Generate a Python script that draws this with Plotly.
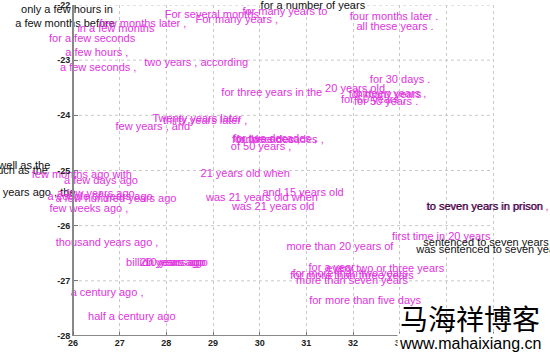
import plotly.graph_objects as go

MAGENTA = "#e033e0"
BLACK = "#111111"

labels = [
    "only a few hours in", "a few months before", "few months later ,", "in a few months",
    "for a few seconds", "a few hours ,", "a few seconds ,", "two years , according",
    "For several months ,", "For many years ,", "for many years to", "for a number of years",
    "four months later .", "all these years .", "for three years in the", "20 years old ,",
    "for 30 days .", "for 60 years ,", "for 50 years .", "for many years", "thirteen years ,",
    "Twenty years later", "thirty years later ,", "few years , and",
    "for three decades ,", "for two decades ,", "for decades ,", "of 50 years ,",
    "21 years old when", "and 15 years old", "was 21 years old when", "was 21 years old",
    "as well as the", "such as the", "several years ago , the",
    "few months ago with", "a few days ago", "a few years ago", "a couple of years ago",
    "a few hundred years ago", "few weeks ago ,", "thousand years ago ,",
    "billion years ago", "20 years ago", "10 years ago", "a century ago ,", "half a century ago",
    "more than 20 years of", "first time in 20 years", "sentenced to seven years",
    "was sentenced to seven years", "to seven years in prison ,", "to seven years in prison",
    "every two or three years", "for a year ,", "for more than two years",
    "for more than three years", "more than seven years", "for more than five days",
]
x_vals = [
    25.87, 25.83, 27.50, 26.92,
    26.41, 26.51, 26.54, 28.64,
    29.04, 29.51, 30.54, 31.14,
    32.88, 32.90, 30.26, 32.11,
    33.01, 32.43, 32.71, 32.69, 32.79,
    28.66, 28.83, 27.71,
    30.39, 30.33, 30.18, 30.03,
    29.69, 30.93, 30.05, 30.29,
    24.80, 24.86, 24.86,
    26.19, 26.60, 26.49, 26.58,
    26.92, 26.34, 26.73,
    27.99, 28.12, 28.21, 26.73, 27.26,
    31.72, 33.89, 34.85,
    34.94, 34.88, 34.83,
    32.69, 31.61, 31.94,
    31.98, 31.98, 32.26,
]
y_vals = [
    -22.09, -22.34, -22.34, -22.44,
    -22.62, -22.87, -23.14, -23.05,
    -22.18, -22.27, -22.13, -22.02,
    -22.22, -22.40, -23.60, -23.52,
    -23.36, -23.72, -23.76, -23.63, -23.61,
    -24.07, -24.10, -24.21,
    -24.45, -24.43, -24.45, -24.57,
    -25.06, -25.41, -25.50, -25.66,
    -24.92, -25.01, -25.41,
    -25.08, -25.19, -25.43, -25.48,
    -25.53, -25.70, -26.31,
    -26.68, -26.68, -26.69, -27.22, -27.66,
    -26.39, -26.21, -26.31,
    -26.44, -25.66, -25.66,
    -26.79, -26.77, -26.88,
    -26.91, -27.00, -27.37,
]
black_labels = {
    "only a few hours in", "a few months before", "for a number of years",
    "as well as the", "such as the", "several years ago , the",
    "sentenced to seven years", "was sentenced to seven years", "to seven years in prison",
}
colors = [BLACK if l in black_labels else MAGENTA for l in labels]

x_ticks = [26, 27, 28, 29, 30, 31, 32, 33, 34, 35]
y_ticks = [-28, -27, -26, -25, -24, -23, -22]

W, H = 550, 359
AX_LEFT_PX, AX_RIGHT_PX = 73, 493
TOP_M, BOT_M = 5, 23
px_per_unit = (AX_RIGHT_PX - AX_LEFT_PX) / (x_ticks[-1] - x_ticks[0])
x_range = [x_ticks[0] - AX_LEFT_PX / px_per_unit,
           x_ticks[0] + (W - AX_LEFT_PX) / px_per_unit]

FONT = "Liberation Sans, Arial, sans-serif"
fig = go.Figure()
fig.add_trace(go.Scatter(
    x=x_vals, y=y_vals, text=labels, mode="text",
    textposition="middle center",
    textfont=dict(family=FONT, size=11, color=colors),
    cliponaxis=False, hoverinfo="skip", showlegend=False,
))

tickfont = dict(family=FONT, size=9, color="#222222", weight="bold")
fig.update_xaxes(range=x_range, tickvals=x_ticks, ticktext=[str(v) for v in x_ticks],
                 showgrid=True, gridcolor="#c8c8c8", griddash="dot", gridwidth=1,
                 zeroline=False, showline=False, ticks="inside", ticklen=4,
                 tickcolor="#777777", tickfont=tickfont)
fig.update_yaxes(range=[y_ticks[0], y_ticks[-1]], tickvals=y_ticks,
                 ticktext=[str(v) for v in y_ticks],
                 anchor="free", position=AX_LEFT_PX / W,
                 showgrid=False, zeroline=False, showline=True, linecolor="#888888",
                 linewidth=2, ticks="inside", ticklen=4, tickcolor="#777777",
                 tickfont=tickfont)

# horizontal dotted grid lines limited to the axes box
for yv in y_ticks[1:]:
    fig.add_shape(type="line", xref="x", yref="y", x0=x_ticks[0], x1=x_ticks[-1],
                  y0=yv, y1=yv, line=dict(color="#c8c8c8", width=1, dash="dot"), layer="below")
# bottom axis line
fig.add_shape(type="line", xref="x", yref="y", x0=x_ticks[0], x1=x_ticks[-1],
              y0=y_ticks[0], y1=y_ticks[0], line=dict(color="#888888", width=2))

plot_h = H - TOP_M - BOT_M
fig.add_annotation(text="马海祥博客", xref="paper", yref="paper", x=470 / W,
                   y=(H - BOT_M - 318) / plot_h,
                   xanchor="center", yanchor="middle", showarrow=False,
                   font=dict(family="Noto Sans CJK SC", size=28, color="#000000"))
fig.add_annotation(text="www.mahaixiang.cn", xref="paper", yref="paper", x=470 / W,
                   y=(H - BOT_M - 343) / plot_h,
                   xanchor="center", yanchor="middle", showarrow=False, bgcolor="white",
                   font=dict(family=FONT, size=16, color="#000000"))

fig.update_layout(
    width=W, height=H,
    margin=dict(l=0, r=0, t=TOP_M, b=BOT_M, pad=0),
    plot_bgcolor="white", paper_bgcolor="white",
)
fig.write_html("out.html")
